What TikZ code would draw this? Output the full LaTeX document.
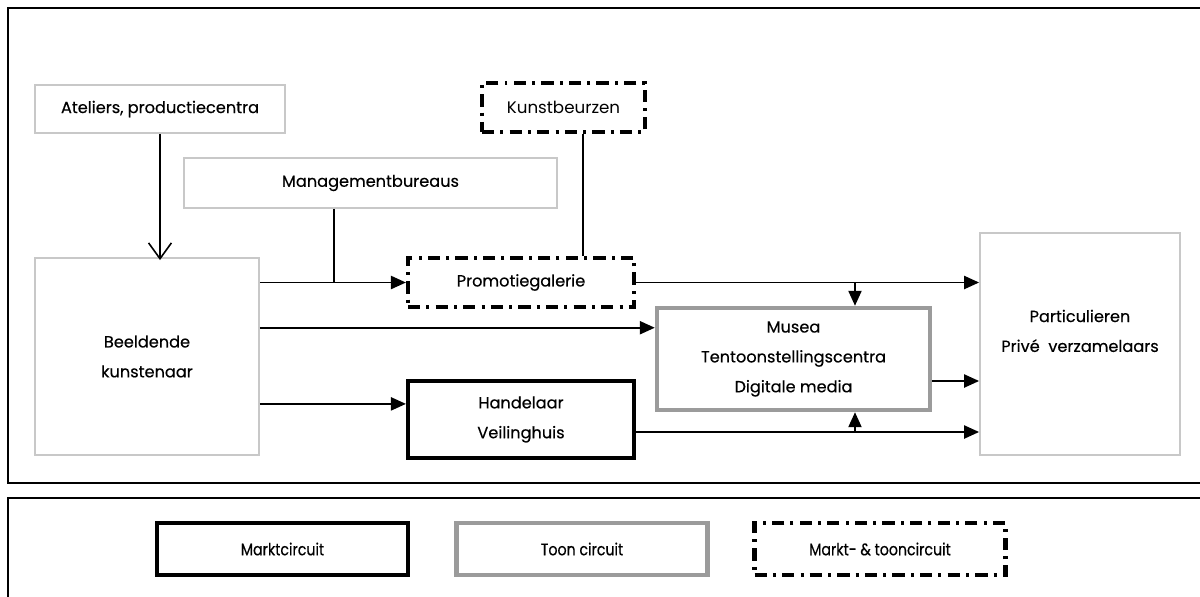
\documentclass[tikz,border=0pt]{standalone}
\usepackage{fontspec}
\setmainfont{Poppins}
\newfontfamily\boxfont{Poppins}[FakeBold=0.4]
\newfontfamily\legfont{Poppins}[FakeBold=0.4, FakeStretch=0.85]
\usetikzlibrary{arrows.meta, positioning}
\definecolor{lgrey}{RGB}{200, 200, 200}
\definecolor{mgrey}{RGB}{155, 155, 155}

\begin{document}
\begin{tikzpicture}[x=0.02cm, y=-0.02cm,
  box/.style={rectangle, draw=lgrey, line width=1.1pt, align=center,
              font=\boxfont\fontsize{9.2}{17}\selectfont, inner sep=2pt},
  toonbox/.style={box, draw=mgrey, line width=2.6pt},
  marktbox/.style={box, draw=black, line width=2.4pt},
  mixbox/.style={box, draw=black, line width=2.4pt,
                 dash pattern=on 7pt off 3.5pt on 1.7pt off 3.5pt},
  leg/.style={font=\legfont\fontsize{9.5}{12}\selectfont},
  arr/.style={-{Triangle[length=8.5pt, width=7.5pt]}, line width=0.9pt},
  frame/.style={draw=black, line width=1.3pt}
]
\useasboundingbox (0,0) rectangle (1200,596);
\draw[frame] (8,8) rectangle (1215,483);
\draw[frame] (8,498) rectangle (1215,615);

% actoren
\node[box, minimum width=5cm, minimum height=0.96cm]         (ateliers) at (160,109) {Ateliers, productiecentra};
\node[box, minimum width=7.46cm, minimum height=1cm]         (mgmt)     at (370.5,183) {Managementbureaus};
\node[mixbox, minimum width=3.26cm, minimum height=0.98cm,
      font=\fontsize{9.5}{12}\selectfont]                   (beurzen)  at (563.5,107.5) {Kunstbeurzen};
\node[mixbox, minimum width=4.52cm, minimum height=0.98cm]   (promo)    at (521,282.5) {Promotiegalerie};
\node[box, minimum width=4.48cm, minimum height=3.94cm]      (kunst)    at (147,356.5) {Beeldende\\kunstenaar};
\node[toonbox, minimum width=5.46cm, minimum height=2.04cm]  (musea)    at (793.5,359) {Musea\\Tentoonstellingscentra\\Digitale media};
\node[marktbox, minimum width=4.52cm, minimum height=1.54cm] (handel)   at (521,419.5) {Handelaar\\Veilinghuis};
\node[box, minimum width=4cm, minimum height=4.44cm]         (partic)   at (1080,344)
  {\raisebox{0.26cm}[\height][\depth]{\begin{tabular}{@{}c@{}}Particulieren\\Privé\ \ verzamelaars\end{tabular}}};

% hulpcoordinaten
\coordinate (m1) at ([yshift=-0.44cm]musea.north west);
\coordinate (h1) at ([yshift=-0.5cm]handel.north west);
\coordinate (mt) at ([xshift=1.23cm]musea.north);
\coordinate (mb) at ([xshift=1.23cm]musea.south);
\coordinate (me) at ([yshift=-0.44cm]musea.east);
\coordinate (he) at ([yshift=-0.25cm]handel.east);
\coordinate (g1) at ([xshift=-0.73cm]mgmt.south);
\coordinate (b1) at ([xshift=0.39cm]beurzen.south);

\draw[-{Straight Barb[length=9pt, width=13pt]}, line width=0.9pt] (ateliers.south) -- ([yshift=-0.06cm]ateliers.south |- kunst.north);
\draw[arr] (kunst.east |- promo.west) -- (promo.west);
\draw[line width=1.4pt] (g1) -- (g1 |- promo.west);
\draw[line width=0.9pt] (b1) -- (b1 |- promo.north);
\draw[arr] (kunst.east |- m1) -- (m1);
\draw[arr] (kunst.east |- h1) -- (h1);
\draw[arr] (promo.east) -- (promo.east -| partic.west);
\draw[arr] (mt |- promo.east) -- (mt);
\draw[arr] (me) -- (me -| partic.west);
\draw[arr] (he) -- (he -| partic.west);
\draw[arr] (mb |- he) -- (mb);

% legenda
\node[marktbox, leg, minimum width=5.02cm, minimum height=1.04cm] (lmarkt) at (282.5,549) {Marktcircuit};
\node[toonbox, leg, minimum width=5.02cm, minimum height=1.04cm]  (ltoon)  at (582,549) {Toon circuit};
\node[mixbox, leg, minimum width=5.02cm, minimum height=1.04cm]   (lmix)   at (880,549) {Markt- \& tooncircuit};
\end{tikzpicture}
\end{document}
